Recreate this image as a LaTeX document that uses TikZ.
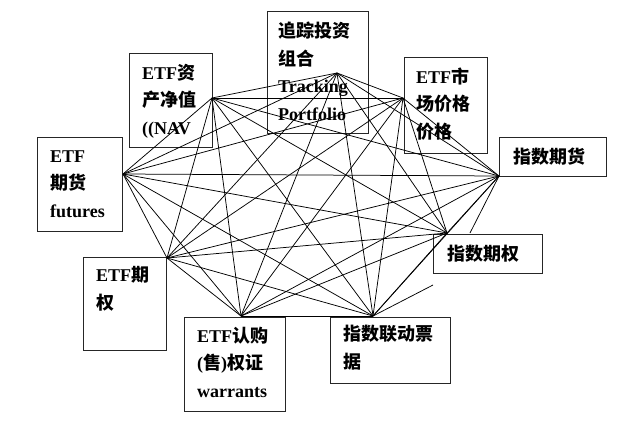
\documentclass[tikz,border=0pt]{standalone}
\usepackage{fontspec}
\setmainfont{Liberation Serif}
\newfontfamily\cjk{Noto Sans CJK SC}
\newcommand{\zh}[1]{{\cjk\bfseries #1}}
\begin{document}
\begin{tikzpicture}[x=1pt,y=-1pt,
  box/.style={draw=black!85, line width=0.9pt},
  edge/.style={draw=black, line width=0.75pt},
  txt/.style={inner sep=0pt, anchor=base west, align=left,
    font=\bfseries\fontsize{18}{27.5}\selectfont}]
\useasboundingbox (0,0) rectangle (640,424);
% boxes
\draw[box] (129,53) rectangle (212,147);
\draw[box] (267,11) rectangle (368,133);
\draw[box] (404,57) rectangle (487,153);
\draw[box] (499,137) rectangle (606,176);
\draw[box] (37,137) rectangle (122,231);
\draw[box] (83,257) rectangle (166,350);
\draw[box] (184,317) rectangle (285,411);
\draw[box] (330,317) rectangle (450,383);
\draw[box] (433,234) rectangle (542,273);
% texts (anchored at the baseline of their last line)
\node[txt] (tnav) at (142,134) {ETF\zh{资}\\\zh{产净值}\\((NAV};
\node[txt] (ttrk) at (278,120) {\zh{追踪投资}\\\zh{组合}\\Tracking\\Portfolio};
\node[txt] (tmkt) at (416,138) {ETF\zh{市}\\\zh{场价格}\\\zh{价格}};
\node[txt] (tifu) at (513,163) {\zh{指数期货}};
\node[txt] (tefu) at (50,217) {ETF\\\zh{期货}\\futures};
\node[txt] (teop) at (96,309) {ETF\zh{期}\\\zh{权}};
\node[txt] (twar) at (197,397) {ETF\zh{认购}\\(\zh{售})\zh{权证}\\warrants};
\node[txt] (tnote) at (343,368) {\zh{指数联动票}\\\zh{据}};
\node[txt] (tiop) at (447,260) {\zh{指数期权}};
% connection points
\coordinate (p1) at (212,98);
\coordinate (p2) at (337,73);
\coordinate (p3) at (403,98);
\coordinate (p4) at (499,176);
\coordinate (p5) at (447,233);
\coordinate (p6) at (373,316);
\coordinate (p7) at (241,316);
\coordinate (p8) at (167,258);
\coordinate (p9) at (123,174);
\coordinate (s1) at (470,233);
\coordinate (s2) at (433,285);
\foreach \i in {1,...,9}{
  \foreach \j in {1,...,9}{
    \ifnum\i<\j \draw[edge] (p\i) -- (p\j); \fi
  }
}
\draw[edge] (p4) -- (s1);
\draw[edge] (p6) -- (s2);
\end{tikzpicture}
\end{document}
